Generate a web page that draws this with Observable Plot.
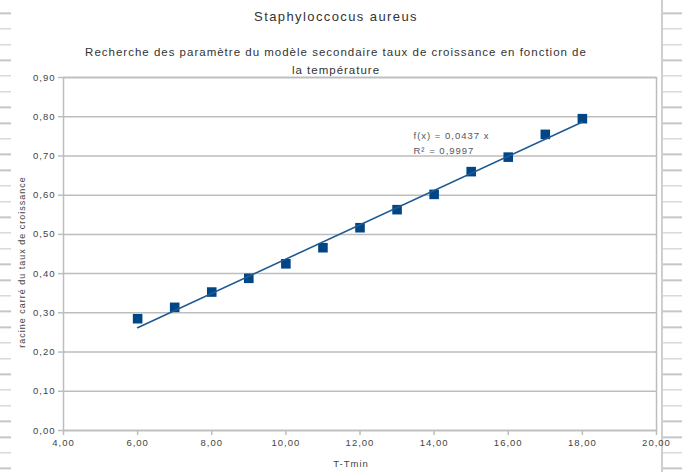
<!DOCTYPE html>
<html>
<head>
<meta charset="utf-8">
<script src="https://cdn.jsdelivr.net/npm/d3@7"></script>
<script src="https://cdn.jsdelivr.net/npm/@observablehq/plot@0.6"></script>
<style>
  html, body { margin: 0; padding: 0; background: #fff; }
  #page { position: relative; width: 682px; height: 472px; overflow: hidden; font-family: "Liberation Sans", Arial, sans-serif; }
  /* spreadsheet row lines peeking out on both sides of the chart object */
  .rows {
    position: absolute; top: 0; height: 472px;
    background-image: repeating-linear-gradient(to bottom, transparent 0 14.2px, #c6c6c6 14.2px 15.7px);
    background-position: 0 -1.65px;
  }
  #rowsLeft { left: 0; width: 11px; }
  #rowsRight { left: 661px; width: 21px; border-left: 2px solid #cfcfcf; }
  #header { position: absolute; left: 11px; top: 0; width: 650px; height: 64px; text-align: center; color: #333; }
  #title { position: absolute; left: 0; right: 0; top: 9px; font-size: 13px; line-height: 16px; letter-spacing: 1.4px; }
  #subtitle { position: absolute; left: 0; right: 0; top: 43px; font-size: 11.5px; line-height: 18px; letter-spacing: 1px; }
  #chart { position: absolute; left: 0; top: 64px; }
  #chart svg text { letter-spacing: 1px; }
</style>
</head>
<body>
<div id="page">
  <div class="rows" id="rowsLeft"></div>
  <div class="rows" id="rowsRight"></div>
  <div id="header">
    <div id="title">Staphyloccocus aureus</div>
    <div id="subtitle">Recherche des paramètre du modèle secondaire taux de croissance en fonction de<br>la température</div>
  </div>
  <div id="chart"></div>
</div>
<script>
// T - Tmin (°C) and square root of the growth rate
const temps = [6, 7, 8, 9, 10, 11, 12, 13, 14, 15, 16, 17, 18];
const rootRates = [0.285, 0.314, 0.353, 0.388, 0.425, 0.466, 0.517, 0.563, 0.602, 0.660, 0.697, 0.755, 0.795];

// linear trend through the origin
const slope = 0.0437;
const rSquared = 0.9997;

// axis ticks
const xTicks = [4, 6, 8, 10, 12, 14, 16, 18, 20];
const yTicks = [0, 0.1, 0.2, 0.3, 0.4, 0.5, 0.6, 0.7, 0.8, 0.9];

const frNum = d3.formatLocale({decimal: ",", thousands: " ", grouping: [3], currency: ["", " €"]});
const f2 = frNum.format(".2f");
const f4 = frNum.format(".4f");

const points = temps.map((t, i) => ({t, v: rootRates[i]}));
const trend = d3.extent(temps).map(t => ({t, v: slope * t}));

const blue = "#004586";
const gridGray = "#bdbdbd";

const chart = Plot.plot({
  width: 682,
  height: 408,
  marginLeft: 63,
  marginRight: 26,
  marginTop: 13,
  marginBottom: 42,
  style: {fontFamily: "Liberation Sans, Arial, sans-serif", fontSize: "9.5px", color: "#444", background: "transparent"},
  x: {domain: [4, 20], ticks: xTicks, tickFormat: f2, tickSize: 5, tickPadding: 3, label: null},
  y: {domain: [0, 0.9], ticks: yTicks, tickFormat: f2, tickSize: 5, tickPadding: 3, label: null},
  marks: [
    Plot.gridY(yTicks, {stroke: gridGray, strokeOpacity: 1, strokeWidth: 1.5}),
    Plot.frame({stroke: gridGray, strokeWidth: 1.5}),
    Plot.axisX({ticks: xTicks, tickFormat: f2, stroke: gridGray, strokeWidth: 1.5, tickSize: 5, tickPadding: 4, label: null}),
    Plot.axisY({ticks: yTicks, tickFormat: f2, stroke: gridGray, strokeWidth: 1.5, tickSize: 5, tickPadding: 3, label: null}),
    Plot.dot(points, {x: "t", y: "v", symbol: "square", r: 5.4, fill: blue, stroke: "none"}),
    Plot.line(trend, {x: "t", y: "v", stroke: "#1f5a94", strokeWidth: 1.6}),
    Plot.text([`f(x) = ${f4(slope)} x\nR² = ${f4(rSquared)}`], {
      frameAnchor: "top-left", dx: 350, dy: 64, textAnchor: "start", lineAnchor: "middle",
      lineHeight: 1.55, fontSize: 9.5, fill: "#555"
    }),
    Plot.text(["T-Tmin"], {frameAnchor: "bottom", dx: -9, dy: 36, fontSize: 9.5, fill: "#444"}),
    Plot.text(["racine carré du taux de croissance"], {frameAnchor: "left", textAnchor: "middle", dx: -41, dy: 8, rotate: -90, fontSize: 9, fill: "#444"})
  ]
});

document.getElementById("chart").append(chart);
</script>
</body>
</html>
